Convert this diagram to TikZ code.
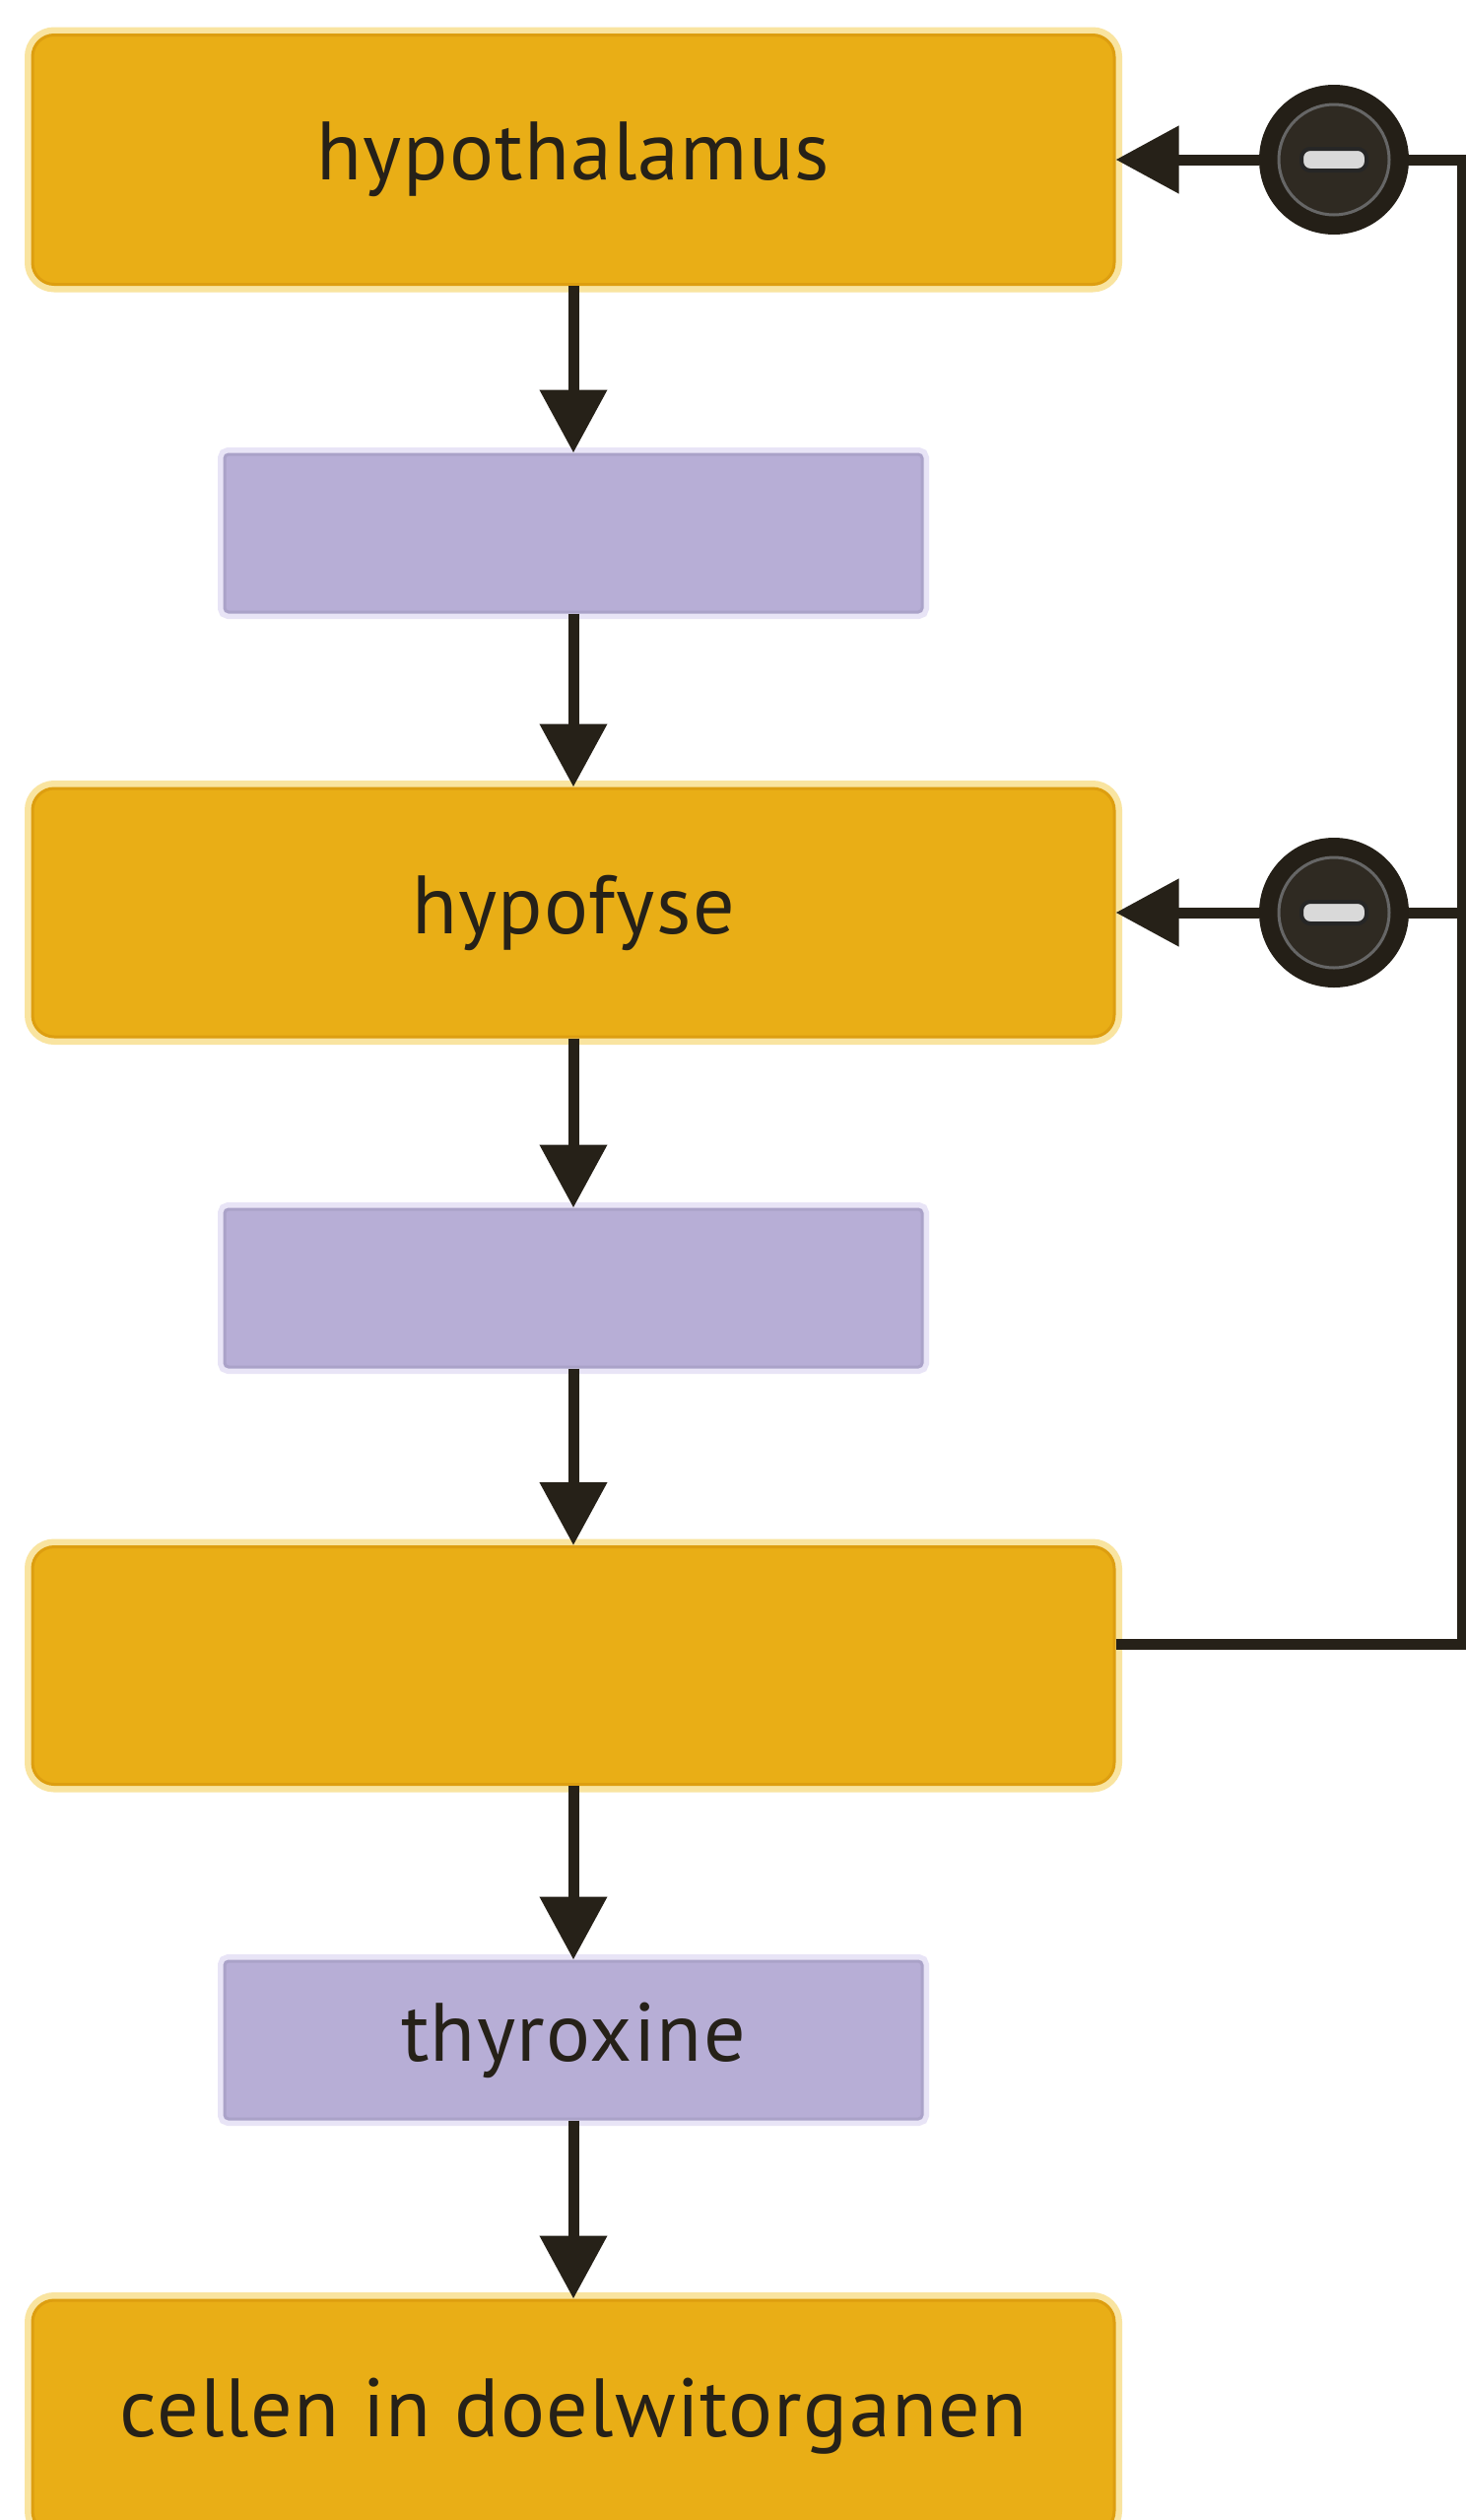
\documentclass[tikz,border=0pt]{standalone}
\usepackage{fontspec}
\setmainfont{PT Sans}
\newfontfamily\labfont[LetterSpace=1.5]{PT Sans}
\usetikzlibrary{arrows.meta,calc}
\definecolor{orF}{RGB}{233,174,22}
\definecolor{orD}{RGB}{221,158,16}
\definecolor{orG}{RGB}{249,228,160}
\definecolor{puF}{RGB}{183,174,214}
\definecolor{puD}{RGB}{170,162,200}
\definecolor{puG}{RGB}{232,228,246}
\definecolor{ink}{RGB}{38,33,24}
\begin{document}
\begin{tikzpicture}[x=1pt,y=-1pt,
  lab/.style={font=\labfont\fontsize{84}{100}\selectfont, text=ink},
  obox/.style={lab, rectangle, rounded corners=22pt, fill=orF, draw=orD, line width=3pt,
     preaction={draw=orG, line width=16pt},
     minimum width=1098pt, inner sep=0pt},
  pbox/.style={lab, rectangle, rounded corners=4pt, fill=puF, draw=puD, line width=3pt,
     preaction={draw=puG, line width=14pt},
     minimum width=708pt, minimum height=160pt, inner sep=0pt},
  arr/.style={draw=ink, line width=11pt, -{Triangle[width=66pt,length=64pt]}},
  fb/.style={draw=ink, line width=11pt},
  minus/.style={circle, minimum size=152pt, inner sep=0pt, fill=ink!95!black,
     path picture={
       \coordinate (pc) at (path picture bounding box.center);
       \draw[draw=black!60, fill=ink!90!gray, line width=3pt] (pc) circle[radius=56pt];
       \draw[draw=black!85, fill=black!15, line width=4pt, rounded corners=9pt]
          ($(pc)+(-33pt,-11pt)$) rectangle ($(pc)+(33pt,11pt)$);
     }},
]
\useasboundingbox (0,0) rectangle (1488,2557);
\fill[white] (0,0) rectangle (1488,2557);

\node[obox, minimum height=253pt] (o1) at (582,162) {hypothalamus};
\node[pbox] (p1) at (582,541) {};
\node[obox, minimum height=252pt] (o2) at (582,926) {hypofyse};
\node[pbox] (p2) at (582,1307) {};
\node[obox, minimum height=241pt] (o3) at (582,1690) {};
\node[pbox] (p3) at (582,2070) {thyroxine};
\node[obox, minimum height=236pt] (o4) at (582,2452) {cellen in doelwitorganen};

\draw[arr] (o1.south) -- (p1.north);
\draw[arr] (p1.south) -- (o2.north);
\draw[arr] (o2.south) -- (p2.north);
\draw[arr] (p2.south) -- (o3.north);
\draw[arr] (o3.south) -- (p3.north);
\draw[arr] (p3.south) -- (o4.north);

\node[minus] (c1) at (1354,162) {};
\node[minus] (c2) at (1354,926) {};

\coordinate (k1) at (1484,162);
\coordinate (k2) at (1484,926);
\coordinate (k3) at (1484,1668);
\coordinate (s3) at (o3.east |- k3);

\draw[fb] (s3) -- (k3) -- (k1) -- (c1.east);
\draw[fb] (k2) -- (c2.east);
\draw[arr] (c1.west) -- (o1.east);
\draw[arr] (c2.west) -- (o2.east);
\end{tikzpicture}
\end{document}
